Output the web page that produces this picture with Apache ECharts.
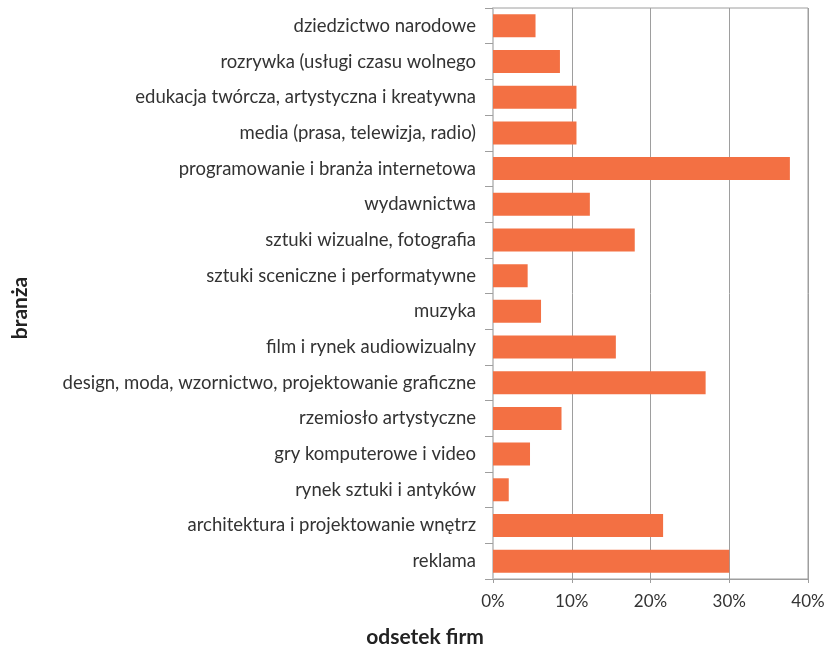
<!DOCTYPE html>
<html>
<head>
<meta charset="utf-8">
<script src="https://cdn.jsdelivr.net/npm/echarts@6/dist/echarts.min.js"></script>
<style>
  html, body { margin: 0; padding: 0; background: #fff; }
  #chart { width: 831px; height: 649px; }
</style>
</head>
<body>
<div id="chart"></div>
<script>
// Branże (od góry do dołu)
const categories = [
  'dziedzictwo narodowe',
  'rozrywka (usługi czasu wolnego',
  'edukacja twórcza, artystyczna i kreatywna',
  'media (prasa, telewizja, radio)',
  'programowanie i branża internetowa',
  'wydawnictwa',
  'sztuki wizualne, fotografia',
  'sztuki sceniczne i performatywne',
  'muzyka',
  'film i rynek audiowizualny',
  'design, moda, wzornictwo, projektowanie graficzne',
  'rzemiosło artystyczne',
  'gry komputerowe i video',
  'rynek sztuki i antyków',
  'architektura i projektowanie wnętrz',
  'reklama'
];

// Odsetek firm (%)
const shares = [5.4, 8.5, 10.6, 10.6, 37.7, 12.3, 18.0, 4.4, 6.1, 15.6, 27.0, 8.7, 4.7, 2.0, 21.6, 30.0];

// Podziałka osi X (%)
const xTicks = [0, 10, 20, 30, 40];

const fontFamily = 'Lato, "Open Sans", sans-serif';
const chart = echarts.init(document.getElementById('chart'), null, { renderer: 'canvas' });

chart.setOption({
  animation: false,
  backgroundColor: '#ffffff',
  textStyle: { fontFamily },
  grid: {
    left: 493, right: 23, top: 8, bottom: 70,
    show: true, borderColor: '#9e9e9e', borderWidth: 1
  },
  xAxis: {
    type: 'value',
    min: xTicks[0],
    max: xTicks[xTicks.length - 1],
    interval: 10,
    axisLine: { show: true, lineStyle: { color: '#9e9e9e', width: 1 } },
    axisTick: { show: true, length: 4, lineStyle: { color: '#9e9e9e' } },
    splitLine: { show: true, lineStyle: { color: '#9e9e9e', width: 1 } },
    axisLabel: {
      color: '#333', fontSize: 17, margin: 14, fontFamily,
      formatter: v => v + '%'
    }
  },
  yAxis: {
    type: 'category',
    data: categories,
    inverse: true,
    axisLine: { show: true, lineStyle: { color: '#c8c8c8', width: 2 } },
    axisTick: { show: true, length: 8, lineStyle: { color: '#9e9e9e' } },
    axisLabel: { color: '#333', fontSize: 18.5, margin: 17, fontFamily }
  },
  series: [{
    type: 'bar',
    data: shares,
    barWidth: 23,
    itemStyle: { color: '#f37043' }
  }],
  graphic: [
    {
      type: 'text',
      x: 425, y: 637,
      style: {
        text: 'odsetek firm', fill: '#222', font: 'bold 21px ' + fontFamily,
        textAlign: 'center', textVerticalAlign: 'middle'
      }
    },
    {
      type: 'text',
      x: 20, y: 308,
      rotation: Math.PI / 2,
      style: {
        text: 'branża', fill: '#222', font: 'bold 21px ' + fontFamily,
        textAlign: 'center', textVerticalAlign: 'middle'
      }
    }
  ]
});
</script>
</body>
</html>
